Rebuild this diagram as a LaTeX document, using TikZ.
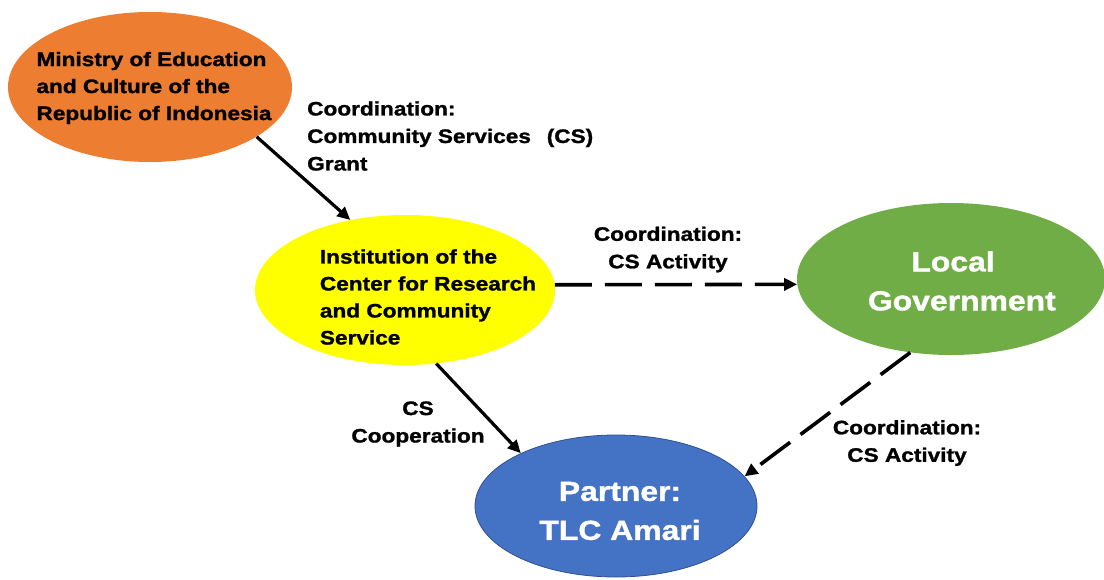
\documentclass[tikz,border=0pt]{standalone}
\usepackage{fontspec}
\setmainfont{Liberation Sans}[BoldFeatures={FakeStretch=1.16,FakeBold=1.3}]
\usetikzlibrary{shapes.geometric,arrows.meta}

\definecolor{minorange}{RGB}{237,125,49}
\definecolor{lppmyellow}{RGB}{255,255,0}
\definecolor{govgreen}{RGB}{112,173,71}
\definecolor{partnerblue}{RGB}{68,114,196}
\definecolor{partnerline}{RGB}{47,82,143}

\begin{document}
\begin{tikzpicture}[x=1pt, y=-1pt,
  bubble/.style={ellipse, inner sep=0pt},
  smalltext/.style={inner sep=0pt, align=left, font=\bfseries\fontsize{19.5}{27}\selectfont},
  bigtext/.style={inner sep=0pt, align=center, text=white, font=\bfseries\fontsize{27.5}{39}\selectfont},
  note/.style={align=center, inner sep=0pt, font=\bfseries\fontsize{19.5}{27.5}\selectfont},
  arrow/.style={-{Triangle[length=13pt,width=12pt]}, line width=3.2pt},
  dasharrow/.style={arrow, line width=3.6pt, dash pattern=on 37pt off 13pt}
]
\useasboundingbox (0,0) rectangle (1104,579);

% the four actors (text set as a centred label so the ellipse keeps its size)
\node[bubble, fill=minorange, minimum width=284pt, minimum height=150pt,
  label={[smalltext, xshift=4pt, yshift=-1pt]center:{Ministry of Education\\and Culture of the\\Republic of Indonesia}}] (ministry) at (150,87) {};
\node[bubble, fill=lppmyellow, minimum width=300pt, minimum height=150pt,
  label={[smalltext, xshift=23pt, yshift=-7pt]center:{Institution of the\\Center for Research\\and Community\\Service}}] (lppm) at (405,290) {};
\node[bubble, fill=govgreen, minimum width=308pt, minimum height=152pt,
  label={[bigtext, xshift=2pt, yshift=-2pt]center:{Local\\\ \ Government}}] (localgov) at (951,279) {};
\node[bubble, fill=partnerblue, draw=partnerline, line width=0.8pt, minimum width=282pt, minimum height=142pt,
  label={[bigtext, xshift=4pt, yshift=-5pt]center:{Partner:\\TLC Amari}}] (partner) at (616,506) {};

% links between them
\draw[arrow] (ministry.-25.5) -- (lppm.128);
\draw[dasharrow] (lppm.2) -- (localgov.182);
\draw[arrow] (lppm.-67) -- (partner.151.6);
\draw[dasharrow] (localgov.-119.5) -- (partner.13);

% link labels
\node[note, align=left, anchor=west] (grant) at (307,136) {Coordination:\\Community Services\ \ \,(CS)\\Grant};
\node[note] (actlppm) at (668,249.5) {Coordination:\\CS Activity};
\node[note] (coop) at (418,424) {CS\\Cooperation};
\node[note] (actgov) at (907,443) {Coordination:\\CS Activity};
\end{tikzpicture}
\end{document}
